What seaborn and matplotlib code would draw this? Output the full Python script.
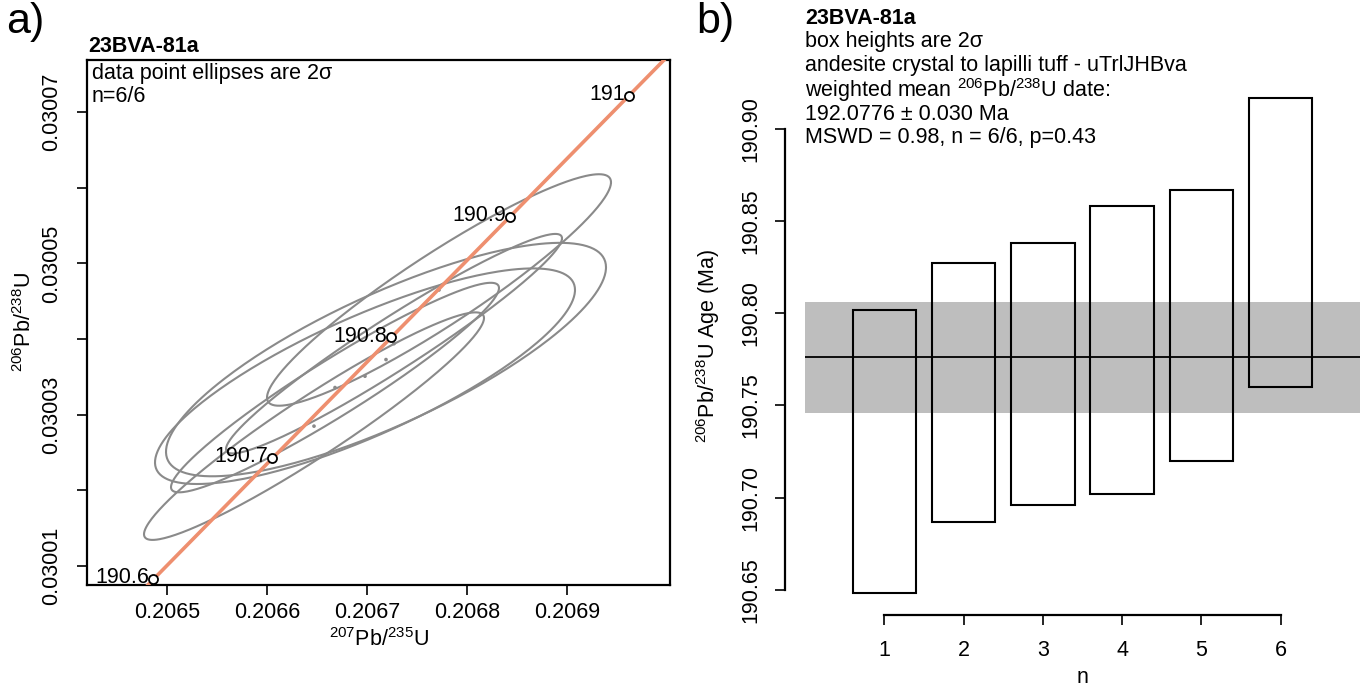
import numpy as np
import matplotlib
matplotlib.use("Agg")
import matplotlib.pyplot as plt
import seaborn as sns

# ---------------- data ----------------
sample = "23BVA-81a"

# panel a) concordia: ellipse centres, 2-sigma half extents, error correlation
pb207_u235 = [0.206668, 0.206698, 0.206719, 0.206727, 0.206647, 0.206772]
pb206_u238 = [0.0300336, 0.0300351, 0.0300373, 0.0300394, 0.0300285, 0.0300465]
err_x = [0.000164, 0.000210, 0.000220, 0.000168, 0.000170, 0.000172]
err_y = [1.385e-5, 1.425e-5, 1.543e-5, 1.451e-5, 1.504e-5, 1.530e-5]
rho = [0.95, 0.80, 0.79, 0.96, 0.95, 0.93]

concordia_ages = [190.6, 190.7, 190.8, 190.9, 191.0]
concordia_labels = ["190.6", "190.7", "190.8", "190.9", "191"]
age_range = [190.55, 191.05]
lambda238 = 1.55125e-4   # per Ma
lambda235 = 9.8485e-4    # per Ma

x_ticks_a = [0.2065, 0.2066, 0.2067, 0.2068, 0.2069]
x_ticklabels_a = ["0.2065", "0.2066", "0.2067", "0.2068", "0.2069"]
y_ticks_a = [0.03001, 0.03002, 0.03003, 0.03004, 0.03005, 0.03006, 0.03007]
y_ticklabels_a = ["0.03001", "", "0.03003", "", "0.03005", "", "0.03007"]
xlim_a = [0.20642, 0.207003]
ylim_a = [0.0300075, 0.0300769]

# panel b) weighted mean
n_idx = [1, 2, 3, 4, 5, 6]
box_lo = [190.648, 190.687, 190.696, 190.702, 190.720, 190.760]
box_hi = [190.802, 190.827, 190.838, 190.858, 190.867, 190.917]
mean_age = 190.776
mean_err = 0.030
y_ticks_b = [190.65, 190.70, 190.75, 190.80, 190.85, 190.90]
y_ticklabels_b = ["190.65", "190.70", "190.75", "190.80", "190.85", "190.90"]
xlim_b = [0, 7]
ylim_b = [190.645, 190.92]

text_a = ["data point ellipses are 2σ", "n=6/6"]
text_b = ["box heights are 2σ",
          "andesite crystal to lapilli tuff - uTrlJHBva",
          r"weighted mean $^{206}$Pb/$^{238}$U date:",
          "192.0776 ± 0.030 Ma",
          "MSWD = 0.98, n = 6/6, p=0.43"]

# ---------------- style ----------------
sns.set_theme(style="white")
FONT = ["Liberation Sans", "DejaVu Sans"]
plt.rcParams["font.family"] = FONT
plt.rcParams["mathtext.fontset"] = "custom"
plt.rcParams["mathtext.rm"] = "Liberation Sans"
plt.rcParams["mathtext.it"] = "Liberation Sans:italic"
plt.rcParams["mathtext.bf"] = "Liberation Sans:bold"
for k in ["text.color", "axes.labelcolor", "xtick.color", "ytick.color",
          "xtick.labelcolor", "ytick.labelcolor"]:
    plt.rcParams[k] = "black"
FS = 15.5

W, H = 1369, 687
fig = plt.figure(figsize=(W / 100, H / 100), dpi=100)


def rect(x0, y0, x1, y1):
    return [x0 / W, (H - y1) / H, (x1 - x0) / W, (y1 - y0) / H]


# ---------------- panel a ----------------
ax = fig.add_axes(rect(87, 60, 670, 585))
t = np.linspace(0, 2 * np.pi, 300)
for cx, cy, ex, ey, r in zip(pb207_u235, pb206_u238, err_x, err_y, rho):
    xs = cx + ex * np.cos(t)
    ys = cy + ey * (r * np.cos(t) + np.sqrt(1 - r * r) * np.sin(t))
    ax.plot(xs, ys, color="#8a8a8a", lw=1.5, zorder=2)
sns.scatterplot(x=pb207_u235, y=pb206_u238, ax=ax, color="#8a8a8a", s=7,
                edgecolor="none", zorder=3, legend=False)

ages = np.linspace(age_range[0], age_range[1], 200)
cx_line = np.exp(lambda235 * ages) - 1
cy_line = np.exp(lambda238 * ages) - 1
sns.lineplot(x=cx_line, y=cy_line, ax=ax, color="#EE8F6F", lw=2.6, sort=False,
             zorder=4, legend=False)
ma = np.array(concordia_ages)
mx = np.exp(lambda235 * ma) - 1
my = np.exp(lambda238 * ma) - 1
ax.plot(mx, my, "o", ms=6.5, mfc="white", mec="black", mew=1.3, zorder=5)
for x, y, lab in zip(mx, my, concordia_labels):
    ax.annotate(lab, (x, y), xytext=(-3, 1), textcoords="offset points",
                ha="right", va="center", fontsize=FS, zorder=6)

ax.set_xlim(xlim_a)
ax.set_ylim(ylim_a)
for s in ax.spines.values():
    s.set_visible(True)
    s.set_color("black")
    s.set_linewidth(1.6)
ax.set_xticks(x_ticks_a)
ax.set_xticklabels(x_ticklabels_a)
ax.set_yticks(y_ticks_a)
ax.set_yticklabels(y_ticklabels_a, rotation=90, va="center")
ax.tick_params(axis="both", direction="out", length=7, width=1.2, labelsize=FS,
               color="black", bottom=True, left=True)
ax.tick_params(axis="x", pad=5)
ax.tick_params(axis="y", pad=11)
ax.set_xlabel(r"$^{207}$Pb/$^{235}$U", fontsize=FS, labelpad=4)
ax.set_ylabel(r"$^{206}$Pb/$^{238}$U", fontsize=FS)
ax.yaxis.set_label_coords((36 - 87) / 583, 0.5)
ax.grid(False)

fig.text(88 / W, 1 - 46 / H, sample, fontsize=FS, fontweight="bold",
         ha="left", va="center")
for i, line in enumerate(text_a):
    fig.text(92 / W, 1 - (74 + 23 * i) / H, line, fontsize=FS,
             ha="left", va="center")
fig.text(6 / W, 1 - 22 / H, "a)", fontsize=31, ha="left", va="center")

# ---------------- panel b ----------------
bx = fig.add_axes(rect(805, 92, 1360, 599))
bx.axhspan(mean_age - mean_err, mean_age + mean_err, color="#BEBEBE", lw=0,
           zorder=1)
heights = [h - l for l, h in zip(box_lo, box_hi)]
bx.bar(n_idx, heights, bottom=box_lo, width=0.8, fill=False,
       edgecolor="black", linewidth=1.5, zorder=3)
bx.axhline(mean_age, color="black", lw=1.3, zorder=4)
bx.set_xlim(xlim_b)
bx.set_ylim(ylim_b)
for k in ["top", "right"]:
    bx.spines[k].set_visible(False)
bx.spines["left"].set_position(("outward", 14.4))
bx.spines["left"].set_bounds(y_ticks_b[0], y_ticks_b[-1])
bx.spines["bottom"].set_position(("outward", 11.5))
bx.spines["bottom"].set_bounds(n_idx[0], n_idx[-1])
for k in ["left", "bottom"]:
    bx.spines[k].set_color("black")
    bx.spines[k].set_linewidth(1.6)
bx.set_xticks(n_idx)
bx.set_xticklabels([str(i) for i in n_idx])
bx.set_yticks(y_ticks_b)
bx.set_yticklabels(y_ticklabels_b, rotation=90, va="center")
bx.tick_params(axis="both", direction="out", length=7, width=1.2, labelsize=FS,
               color="black", bottom=True, left=True)
bx.tick_params(axis="x", pad=11)
bx.tick_params(axis="y", pad=10)
bx.set_xlabel("n", fontsize=FS, labelpad=4)
bx.set_ylabel(r"$^{206}$Pb/$^{238}$U Age (Ma)", fontsize=FS)
bx.yaxis.set_label_coords((722 - 805) / 555, 0.5)
bx.grid(False)

fig.text(805 / W, 1 - 18 / H, sample, fontsize=FS, fontweight="bold",
         ha="left", va="center")
for i, line in enumerate(text_b):
    fig.text(805 / W, 1 - (42 + 24 * i) / H, line, fontsize=FS,
             ha="left", va="center")
fig.text(696 / W, 1 - 22 / H, "b)", fontsize=31, ha="left", va="center")

fig.savefig("out.png", dpi=100)
